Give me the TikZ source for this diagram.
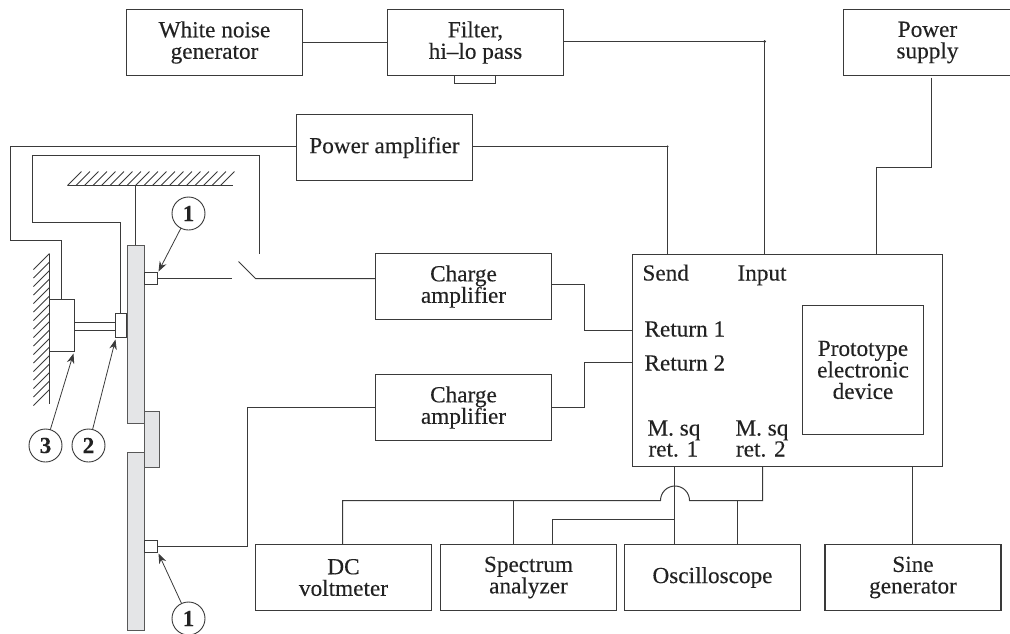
\documentclass[tikz,border=0pt]{standalone}
\usepackage{fontspec}
\setmainfont[FakeBold=0.25,FakeStretch=1.01]{Liberation Serif}
\usetikzlibrary{arrows.meta,calc}
\definecolor{ink}{HTML}{3A3A3A}
\definecolor{txt}{HTML}{222222}
\definecolor{beamgrey}{HTML}{E4E5E7}
\tikzset{
  wire/.style={draw=ink,line width=1pt},
  bx/.style={draw=ink,line width=1.2pt,fill=white,inner sep=0pt,outer sep=0pt,align=center,text=txt,font=\fontsize{23}{21.5}\selectfont,minimum width=176pt,minimum height=66pt},
  lbl/.style={inner sep=0pt,outer sep=0pt,anchor=base west,text=txt,align=left,font=\fontsize{23}{21.5}\selectfont},
  num/.style={circle,draw=ink,line width=0.9pt,fill=white,minimum size=33pt,inner sep=0pt,outer sep=0pt,text=txt,font=\bfseries\fontsize{23}{23}\selectfont},
  pt/.style={arrows={-Stealth[length=10pt,width=7.5pt]},draw=ink,line width=0.8pt},
  beam/.style={draw=ink!85,line width=1pt,fill=beamgrey},
  small/.style={draw=ink,line width=1.1pt,fill=white,inner sep=0pt,outer sep=0pt},
  hatch/.style={draw=ink,line width=0.8pt},
}
\begin{document}
\begin{tikzpicture}[x=1pt,y=-1pt]
\useasboundingbox (0,0) rectangle (1010,633);
\begin{scope}[shift={(0.5,0.5)}]
% boxes
\node[bx] (wn) at (214,42) {White noise\\generator};
\node[bx] (fl) at (475,42) {Filter,\\hi--lo pass};
\node[small,minimum width=41pt,minimum height=8pt] (fk) at (474.5,79) {};
\node[bx] (pa) at (384,147) {Power amplifier};
\node[bx,minimum width=168pt] (ps) at (927,42) {Power\\supply};
\node[bx] (c1) at (463,286) {Charge\\amplifier};
\node[bx] (c2) at (463,407) {Charge\\amplifier};
\node[bx,minimum width=310pt,minimum height=212pt] (main) at (787,360) {};
\node[bx,minimum width=121pt,minimum height=129pt] (pr) at (862.5,369.5) {Prototype\\electronic\\device};
\node[bx] (dc) at (343,577) {DC\\voltmeter};
\node[bx] (sp) at (528,577) {Spectrum\\analyzer};
\node[bx] (os) at (712,577) {Oscilloscope};
\node[bx] (si) at (912.5,577) {Sine\\generator};
% labels inside the main box
\node[lbl] (l1) at (642,280) {Send};
\node[lbl] (l2) at (737,280) {Input};
\node[lbl] (l3) at (644,336) {Return 1};
\node[lbl] (l4) at (644,370) {Return 2};
\node[lbl] (l5) at (647,435) {M. sq};
\node[lbl] (l6) at (648,456) {ret. 1};
\node[lbl] (l7) at (735,435) {M. sq};
\node[lbl] (l8) at (735.5,456) {ret. 2};
% top connectors
\draw[wire] (wn) -- (fl);
\coordinate (fj) at (764,41);
\coordinate (fin) at (764,254);
\draw[wire] (fl.east |- fj) -- (fj) -- (fin);
\fill[ink] (fj) circle (1.5pt);
\coordinate (pj) at (667,146);
\coordinate (pin) at (667,254);
\draw[wire] (pa.east |- pj) -- (pj) -- (pin);
\fill[ink] (pj) circle (1.2pt);
\coordinate (ps0) at (931,77);
\coordinate (ps1) at (931,167);
\coordinate (ps2) at (876,167);
\coordinate (ps3) at (876,254);
\draw[wire] (ps0) -- (ps1) -- (ps2) -- (ps3);
% charge amp to main
\coordinate (a1) at (551,284);
\coordinate (a2) at (584,284);
\coordinate (a3) at (584,330);
\coordinate (a4) at (632,330);
\draw[wire] (a1) -- (a2) -- (a3) -- (a4);
\coordinate (b1) at (551,407);
\coordinate (b2) at (584,407);
\coordinate (b3) at (584,362);
\coordinate (b4) at (632,362);
\draw[wire] (b1) -- (b2) -- (b3) -- (b4);
% bottom connectors
\coordinate (m1) at (674,466);
\coordinate (m1b) at (674,544);
\draw[wire] (m1) -- (m1b);
\coordinate (m2) at (762,466);
\coordinate (m2b) at (762,500);
\coordinate (ar) at (689,500);
\coordinate (al) at (660,500);
\coordinate (dct) at (342,500);
\coordinate (dcb) at (342,544);
\draw[wire] (m2) -- (m2b) -- (ar) arc[start angle=0,end angle=-180,radius=14.5] -- (dct) -- (dcb);
\coordinate (ost) at (737,500);
\coordinate (osb) at (737,544);
\draw[wire] (ost) -- (osb);
\coordinate (spt) at (513,500);
\coordinate (spb) at (513,544);
\draw[wire] (spt) -- (spb);
\coordinate (sj) at (674,519);
\coordinate (sk) at (552,519);
\coordinate (sb) at (552,544);
\draw[wire] (sj) -- (sk) -- (sb);
\coordinate (s1) at (912,466);
\coordinate (s2) at (912,544);
\draw[wire] (s1) -- (s2);
% ceiling and wall
\foreach \x in {67,75.5,...,220}{\draw[hatch] (\x,185) -- (\x+14,171);}
\draw[wire] (67,185) -- (232,185);
\foreach \y in {261,269.5,...,404}{\draw[hatch] (49,\y-8) -- (33,\y+8);}
\draw[wire] (49,253) -- (49,403);
\draw[wire] (135,185) -- (135,245);
% beams
\draw[beam] (144,411) rectangle (159,467);
\draw[beam] (127,245) rectangle (144,423);
\draw[beam] (127,452) rectangle (144,630);
% transducers
\node[small,minimum width=13pt,minimum height=12pt] (t1) at (150.5,278) {};
\node[small,minimum width=13pt,minimum height=12pt] (t2) at (150.5,546) {};
\node[small,minimum width=11pt,minimum height=24pt] (ac) at (120.5,325) {};
\node[small,minimum width=25pt,minimum height=52pt] (sh) at (61.5,325) {};
\draw[wire] (sh.east |- 0,322) -- (ac.west |- 0,322);
\draw[wire] (sh.east |- 0,330) -- (ac.west |- 0,330);
% wiring at the left
\coordinate (w1) at (10,146);
\coordinate (w2) at (10,240);
\coordinate (w3) at (61,240);
\draw[wire] (pa.west |- w1) -- (w1) -- (w2) -- (w3) -- (w3 |- sh.north);
\coordinate (v1) at (120,222);
\coordinate (v2) at (32,222);
\coordinate (v3) at (32,155);
\coordinate (v4) at (259,155);
\coordinate (v5) at (259,253);
\draw[wire] (v1 |- ac.north) -- (v1) -- (v2) -- (v3) -- (v4) -- (v5);
\coordinate (sw1) at (231,278);
\coordinate (sw2) at (238,261);
\coordinate (sw3) at (255,278);
\draw[wire] (t1.east) -- (sw1);
\draw[wire] (sw2) -- (sw3) -- (c1.west |- sw3);
\coordinate (u1) at (247,546);
\coordinate (u2) at (247,407);
\draw[wire] (t2.east) -- (u1) -- (u2) -- (c2.west);
% numbered callouts
\node[num] (n1) at (188,213) {1};
\node[num] (n3) at (45,445) {3};
\node[num] (n2) at (88,445) {2};
\node[num] (n4) at (188,618) {1};
\coordinate (h1) at (158,271);
\coordinate (h3) at (73,353);
\coordinate (h2) at (115,339);
\coordinate (h4) at (158,553);
\draw[pt] (n1) -- (h1);
\draw[pt] (n3) -- (h3);
\draw[pt] (n2) -- (h2);
\draw[pt] (n4) -- (h4);
\end{scope}
\end{tikzpicture}
\end{document}
